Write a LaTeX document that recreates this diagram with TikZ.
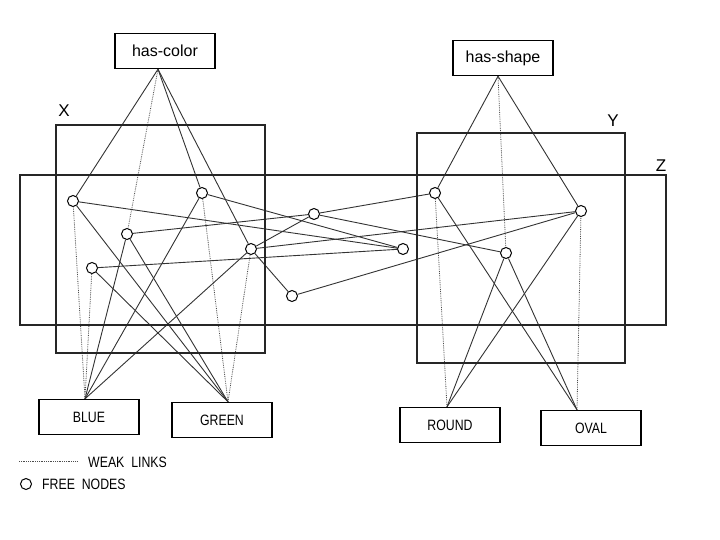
\documentclass[tikz,border=0pt]{standalone}
\usepackage{fontspec}
\setmainfont{Liberation Sans}
\newfontfamily\narrowfont{Liberation Sans}[FakeStretch=0.82]
\usetikzlibrary{positioning,backgrounds}

\begin{document}
\begin{tikzpicture}[x=1pt, y=-1pt,
  box/.style = {draw, line width=1.4pt, minimum width=100pt, minimum height=35pt, inner sep=0pt},
  tag/.style = {box, font=\narrowfont\fontsize{15}{17}\selectfont},
  free/.style = {draw, circle, fill=white, line width=1pt, minimum size=11pt, inner sep=0pt},
  frame/.style = {draw, line width=1.3pt, black!85},
  letter/.style = {font=\fontsize{17}{19}\selectfont, inner sep=0pt},
  link/.style = {line width=0.9pt, black!80},
  weak/.style = {line width=0.8pt, black!70, densely dotted}]
  \useasboundingbox (0,0) rectangle (720,540);

  % the three groups
  \draw[frame] (56,125) rectangle (265,353);
  \draw[frame] (417,133) rectangle (625,363);
  \draw[frame] (20,175) rectangle (666,325);
  \node[letter] (lx) at (64,111) {X};
  \node[letter] (ly) at (613,121) {Y};
  \node[letter] (lz) at (661,166) {Z};

  % property and value nodes
  \node[box, font=\fontsize{16}{18}\selectfont] (hc) at (165,51) {has-color};
  \node[box, font=\fontsize{16}{18}\selectfont] (hs) at (503,58) {has-shape};
  \node[tag] (blue) at (89,417) {BLUE};
  \node[tag] (green) at (222,420) {GREEN};
  \node[tag] (round) at (450,425) {ROUND};
  \node[tag] (oval) at (591,428) {OVAL};

  % free nodes
  \node[free] (f1) at (73,201) {};
  \node[free] (f2) at (202,193) {};
  \node[free] (f3) at (127,234) {};
  \node[free] (f4) at (92,268) {};
  \node[free] (f5) at (251,249) {};
  \node[free] (f6) at (314,214) {};
  \node[free] (f7) at (292,296) {};
  \node[free] (f8) at (403,249) {};
  \node[free] (f9) at (435,193) {};
  \node[free] (f10) at (506,253) {};
  \node[free] (f11) at (581,211) {};

  %% Links
  \begin{scope}[on background layer]
  \draw[link] ([xshift=-7pt]hc.south) -- (f1);
  \draw[link] ([xshift=-7pt]hc.south) -- (f2);
  \draw[weak] ([xshift=-7pt]hc.south) -- (f3);
  \draw[link] ([xshift=-7pt]hc.south) -- (f5);
  \draw[link] ([xshift=-5pt]hs.south) -- (f9);
  \draw[weak] ([xshift=-5pt]hs.south) -- (f10);
  \draw[link] ([xshift=-5pt]hs.south) -- (f11);

  \draw[weak] ([xshift=-4pt]blue.north) -- (f1);
  \draw[link] ([xshift=-4pt]blue.north) -- (f2);
  \draw[link] ([xshift=-4pt]blue.north) -- (f3);
  \draw[weak] ([xshift=-4pt]blue.north) -- (f4);
  \draw[link] ([xshift=-4pt]blue.north) -- (f5);
  \draw[link] ([xshift=6pt]green.north) -- (f1);
  \draw[weak] ([xshift=6pt]green.north) -- (f2);
  \draw[link] ([xshift=6pt]green.north) -- (f3);
  \draw[link] ([xshift=6pt]green.north) -- (f4);
  \draw[weak] ([xshift=6pt]green.north) -- (f5);

  \draw[weak] ([xshift=-3pt]round.north) -- (f9);
  \draw[link] ([xshift=-3pt]round.north) -- (f10);
  \draw[link] ([xshift=-3pt]round.north) -- (f11);
  \draw[link] ([xshift=-14pt]oval.north) -- (f9);
  \draw[link] ([xshift=-14pt]oval.north) -- (f10);
  \draw[weak] ([xshift=-14pt]oval.north) -- (f11);

  \draw[link] (f1) -- (f8);
  \draw[link] (f2) -- (f8);
  \draw[link] (f3) -- (f6);
  \draw[link] (f4) -- (f8);
  \draw[link] (f5) -- (f6);
  \draw[link] (f5) -- (f7);
  \draw[link] (f5) -- (f11);
  \draw[link] (f6) -- (f9);
  \draw[link] (f6) -- (f10);
  \draw[link] (f7) -- (f11);
  \end{scope}

  %% Key
  \coordinate (wa) at (19,461);
  \coordinate (wb) at (78,461);
  \draw[weak] (wa) -- (wb);
  \node[anchor=west, inner sep=0pt, font=\narrowfont\fontsize{15}{17}\selectfont] (wtext) at (88,462) {WEAK\ \ LINKS};
  \node[free] (fkey) at (26,484) {};
  \node[right=10pt of fkey, inner sep=0pt, font=\narrowfont\fontsize{15}{17}\selectfont] (ftext) {FREE\ \ NODES};
\end{tikzpicture}
\end{document}
